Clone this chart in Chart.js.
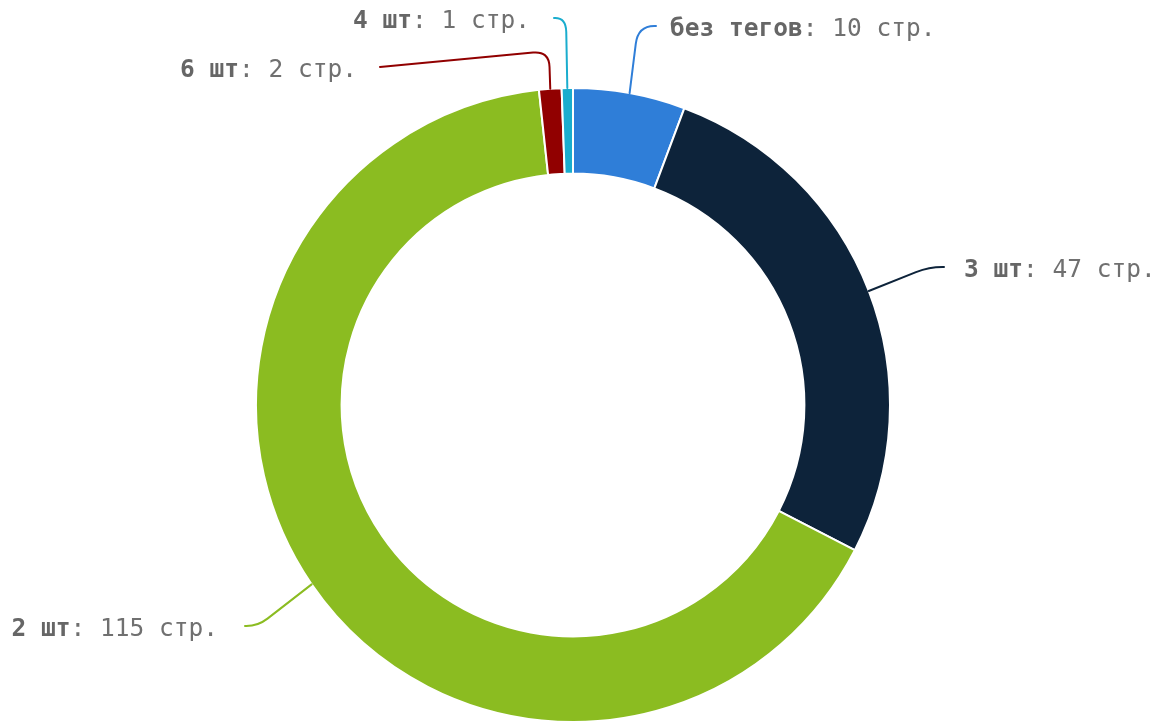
<!DOCTYPE html>
<html><head><meta charset="utf-8">
<script src="https://cdn.jsdelivr.net/npm/chart.js@4/dist/chart.umd.min.js"></script>
<style>html,body{margin:0;padding:0;background:#fff}#wrap{width:1166px;height:725px;position:relative}</style>
</head><body><div id="wrap"><canvas id="c" width="1166" height="725"></canvas></div>
<script>
const categories = ['без тегов', '3 шт', '2 шт', '6 шт', '4 шт'];
const pages = [10, 47, 115, 2, 1];
const unit = 'стр.';
const colors = ['#2f7ed8', '#0d233a', '#8bbc21', '#910000', '#1aadce'];

// label layout relative to pie centre: bend point, connector end, text side
const labelLayout = [
  {bend: [65, -379], end: [83, -379], side: 'left', gap: 14, r: 18},
  {bend: [356, -138], end: [371, -138], side: 'left', gap: 20, r: 14},
  {bend: [-315, 221], end: [-328, 221], side: 'right', gap: 27, r: 12},
  {bend: [-24, -354], end: [-193, -338], side: 'right', gap: 23, r: 16},
  {bend: [-7, -387], end: [-19, -387], side: 'right', gap: 24, r: 14}
];

const calloutPlugin = {
  id: 'callouts',
  afterDatasetsDraw(chart) {
    const ctx = chart.ctx;
    const meta = chart.getDatasetMeta(0);
    meta.data.forEach((arc, i) => {
      const p = arc.getProps(['x','y','startAngle','endAngle','outerRadius'], true);
      const mid = (p.startAngle + p.endAngle) / 2;
      const ax = p.x + Math.cos(mid) * (p.outerRadius);
      const ay = p.y + Math.sin(mid) * (p.outerRadius);
      const L = labelLayout[i];
      const bx = p.x + L.bend[0], by = p.y + L.bend[1];
      const ex = p.x + L.end[0], ey = p.y + L.end[1];
      const r = L.r;
      const d1 = Math.hypot(bx-ax, by-ay), d2 = Math.hypot(ex-bx, ey-by);
      const r1 = Math.min(r, d1*0.6), r2 = Math.min(r, d2*0.9);
      const p1x = bx - (bx-ax)/d1*r1, p1y = by - (by-ay)/d1*r1;
      const p2x = bx + (ex-bx)/d2*r2, p2y = by + (ey-by)/d2*r2;
      ctx.save();
      ctx.strokeStyle = colors[i];
      ctx.lineWidth = 2;
      ctx.lineCap = 'round';
      ctx.lineJoin = 'round';
      ctx.beginPath();
      ctx.moveTo(ax, ay);
      ctx.lineTo(p1x, p1y);
      ctx.quadraticCurveTo(bx, by, p2x, p2y);
      ctx.lineTo(ex, ey);
      ctx.stroke();
      const boldTxt = categories[i];
      const normTxt = ': ' + pages[i] + ' ' + unit;
      const bf = 'bold 24.5px "DejaVu Sans Mono"';
      const nf = '24.5px "DejaVu Sans Mono"';
      ctx.font = bf; const wb = ctx.measureText(boldTxt).width;
      ctx.font = nf; const wn = ctx.measureText(normTxt).width;
      let tx = L.side === 'left' ? ex + L.gap : ex - L.gap - wb - wn;
      ctx.textBaseline = 'middle';
      ctx.textAlign = 'left';
      ctx.fillStyle = '#666666';
      ctx.font = bf; ctx.fillText(boldTxt, tx, ey + 4);
      ctx.font = nf; ctx.fillStyle = '#707070'; ctx.fillText(normTxt, tx + wb, ey + 4);
      ctx.restore();
    });
  }
};

new Chart(document.getElementById('c'), {
  type: 'doughnut',
  data: {
    labels: categories,
    datasets: [{
      data: pages,
      backgroundColor: colors,
      borderColor: '#ffffff',
      borderWidth: 2,
      hoverOffset: 0
    }]
  },
  options: {
    responsive: false,
    animation: false,
    cutout: '73%',
    layout: {padding: {top: 87, bottom: 2, left: 0, right: 20}},
    plugins: {legend: {display: false}, tooltip: {enabled: false}}
  },
  plugins: [calloutPlugin]
});
</script>
</body></html>
